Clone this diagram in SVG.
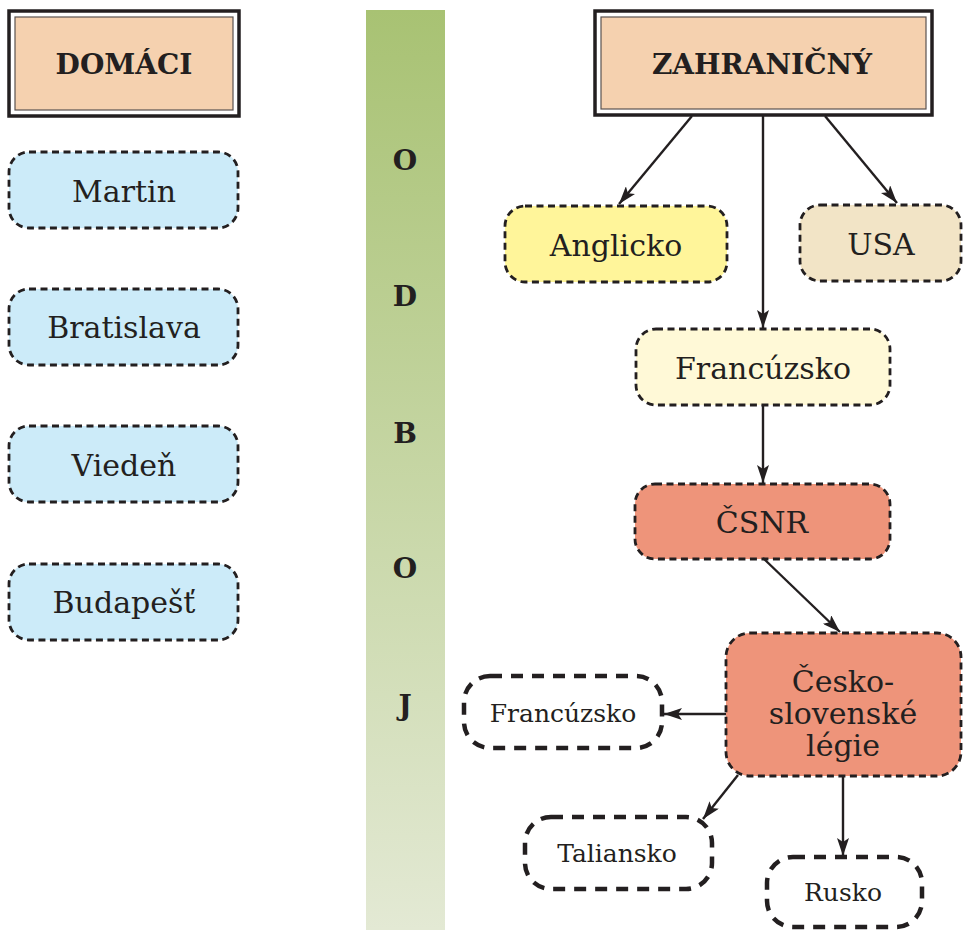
<svg xmlns="http://www.w3.org/2000/svg" width="963" height="930" viewBox="0 0 963 930">
<defs>
<linearGradient id="bar" x1="0" y1="0" x2="0" y2="1">
<stop offset="0" stop-color="#A8C273"/>
<stop offset="1" stop-color="#E3E9D4"/>
</linearGradient>
<marker id="ah" viewBox="0 0 18 12" refX="18" refY="6" markerWidth="18" markerHeight="12" markerUnits="userSpaceOnUse" orient="auto">
<path d="M0,0 L18,6 L0,12 L4,6 z" fill="#231F20"/>
</marker>
<style>
.outer{fill:#fff;stroke:#231F20;stroke-width:3.5}
.inner{fill:#F5D1AF;stroke:#5a5350;stroke-width:1.2}
.hdr{font-family:"DejaVu Serif","Liberation Serif",serif;font-weight:bold;font-size:28px;fill:#231F20;text-anchor:middle}
.node{stroke:#231F20;stroke-width:2.8;stroke-dasharray:7 4.5}
.thick{fill:#fff;stroke:#231F20;stroke-width:4.5;stroke-dasharray:12 9}
.lbl{font-family:"DejaVu Serif","Liberation Serif",serif;font-size:30px;fill:#231F20;text-anchor:middle}
.sm{font-family:"DejaVu Serif","Liberation Serif",serif;font-size:25px;fill:#231F20;text-anchor:middle}
.bar{font-family:"DejaVu Serif","Liberation Serif",serif;font-weight:bold;font-size:28px;fill:#231F20;text-anchor:middle}
.blue{fill:#CCEBF9}
.edge{stroke:#231F20;stroke-width:2.4;fill:none;marker-end:url(#ah)}
</style>
</defs>
<rect x="366" y="10" width="79" height="920" fill="url(#bar)"/>
<g id="odboj">
<text class="bar" x="405" y="170">O</text>
<text class="bar" x="405" y="306">D</text>
<text class="bar" x="405" y="443">B</text>
<text class="bar" x="405" y="578">O</text>
<text class="bar" x="405" y="715">J</text>
</g>
<g id="domaci">
<rect class="outer" x="9" y="11" width="230" height="105"/>
<rect class="inner" x="15" y="17" width="218" height="93"/>
<text class="hdr" x="124" y="74">DOMÁCI</text>
</g>
<g id="martin">
<rect class="node blue" x="9" y="152" width="229" height="76" rx="20"/>
<text class="lbl" x="124" y="202">Martin</text>
</g>
<g id="bratislava">
<rect class="node blue" x="9" y="289" width="229" height="76" rx="20"/>
<text class="lbl" x="124" y="338">Bratislava</text>
</g>
<g id="vieden">
<rect class="node blue" x="9" y="426" width="229" height="76" rx="20"/>
<text class="lbl" x="124" y="476">Viedeň</text>
</g>
<g id="budapest">
<rect class="node blue" x="9" y="564" width="229" height="76" rx="20"/>
<text class="lbl" x="124" y="613">Budapešť</text>
</g>
<g id="zahranicny">
<rect class="outer" x="595" y="11" width="337" height="104"/>
<rect class="inner" x="601" y="17" width="325" height="92"/>
<text class="hdr" x="762" y="74">ZAHRANIČNÝ</text>
</g>
<g id="anglicko">
<rect class="node" fill="#FFF59A" x="505" y="206" width="222" height="76" rx="20"/>
<text class="lbl" x="616" y="256">Anglicko</text>
</g>
<g id="usa">
<rect class="node" fill="#F2E4C6" x="800" y="205" width="161" height="76" rx="20"/>
<text class="lbl" x="881" y="255">USA</text>
</g>
<g id="francuzsko">
<rect class="node" fill="#FFF9D7" x="636" y="329" width="254" height="76" rx="20"/>
<text class="lbl" x="763" y="379">Francúzsko</text>
</g>
<g id="csnr">
<rect class="node" fill="#EE947A" x="635" y="484" width="255" height="75" rx="20"/>
<text class="lbl" x="762" y="533">ČSNR</text>
</g>
<g id="legie">
<rect class="node" fill="#EE947A" x="726" y="633" width="235" height="143" rx="24"/>
<text class="lbl" x="843" y="692">Česko-</text>
<text class="lbl" x="843" y="724">slovenské</text>
<text class="lbl" x="843" y="756">légie</text>
</g>
<g id="francuzsko2">
<rect class="thick" x="464" y="676" width="198" height="72" rx="26"/>
<text class="sm" x="563" y="722">Francúzsko</text>
</g>
<g id="taliansko">
<rect class="thick" x="525" y="817" width="187" height="72" rx="26"/>
<text class="sm" x="617" y="862">Taliansko</text>
</g>
<g id="rusko">
<rect class="thick" x="767" y="857" width="155" height="70" rx="26"/>
<text class="sm" x="843" y="901">Rusko</text>
</g>
<g id="connectors">
<line class="edge" x1="692" y1="116" x2="619" y2="204"/>
<line class="edge" x1="763" y1="116" x2="763" y2="328"/>
<line class="edge" x1="825" y1="116" x2="897" y2="203"/>
<line class="edge" x1="763" y1="405" x2="763" y2="483"/>
<line class="edge" x1="763" y1="558" x2="840" y2="632"/>
<line class="edge" x1="726" y1="714" x2="664" y2="714"/>
<line class="edge" x1="738" y1="775" x2="703" y2="819"/>
<line class="edge" x1="843" y1="777" x2="843" y2="856"/>
</g>
</svg>
